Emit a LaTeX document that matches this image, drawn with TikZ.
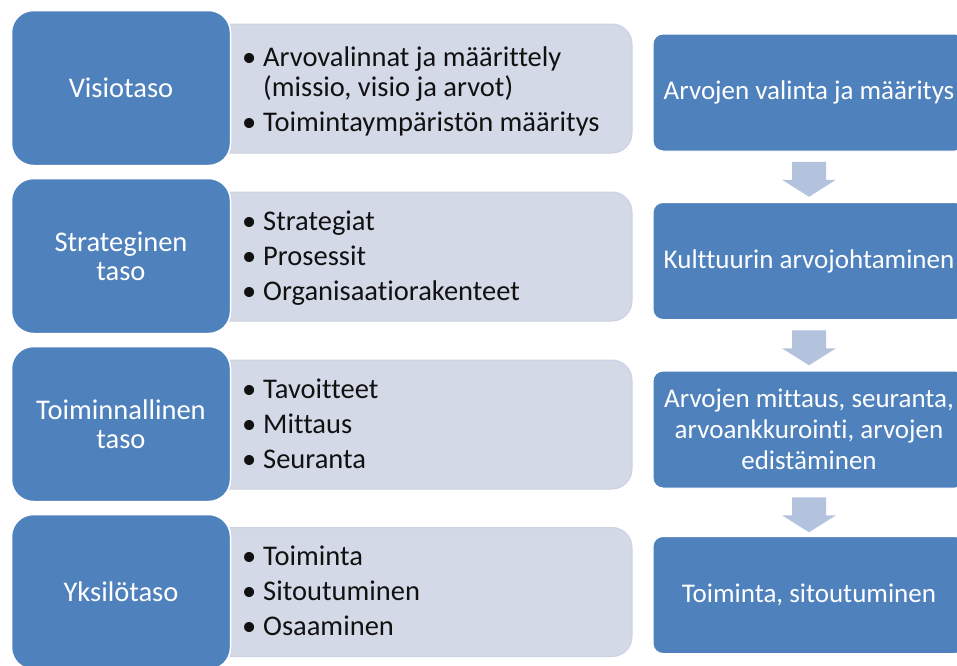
\documentclass[tikz,border=0pt]{standalone}
\usepackage{fontspec}
\setmainfont{Carlito}[Ligatures={NoCommon}]
\usetikzlibrary{calc}
\definecolor{tasosin}{HTML}{4F81BD}
\definecolor{listaharmaa}{HTML}{D3D9E6}
\definecolor{listareuna}{HTML}{CBD2E1}
\definecolor{nuolisin}{HTML}{B3C2DD}
\definecolor{teksti}{HTML}{111111}

\begin{document}
\begin{tikzpicture}[x=1pt,y=-1pt,
  taso/.style={rounded corners=22pt, fill=tasosin, draw=white, line width=1.5pt, minimum width=219pt, minimum height=155pt, text=white, align=center, font=\fontsize{28.5}{29}\selectfont},
  lista/.style={rounded corners=20pt, fill=listaharmaa, draw=listareuna, line width=1pt, minimum width=432pt, minimum height=129pt},
  kohdat/.style={anchor=west, inner sep=0pt, text=teksti, font=\fontsize{28.5}{29}\selectfont},
  arvo/.style={rounded corners=10pt, fill=tasosin, draw=white, line width=1pt, minimum width=312pt, minimum height=117pt, text=white, align=center, font=\fontsize{27}{31}\selectfont},
  nuoli/.style={fill=nuolisin}
]
\useasboundingbox (0,0) rectangle (957,665);
\clip (0,0) rectangle (957,665);

% harmaat listalaatikot
\node[lista] (visioL) at (416,88.5) {};
\node[lista] (stratL) at (416,256.5) {};
\node[lista] (toimL) at (416,424.5) {};
\node[lista] (yksL) at (416,592) {};

% tasot
\node[taso] (visio) at (121,88) {Visiotaso};
\node[taso] (strat) at (121,256) {Strateginen\\taso};
\node[taso] (toim) at (121,424) {Toiminnallinen\\taso};
\node[taso] (yks) at (121,592) {Yksilötaso};

% listat
\node[kohdat] (visioT) at (242,93) {\begin{tabular}{@{}p{21pt}@{}l@{}}
  \textbullet & Arvovalinnat ja määrittely\\
  & (missio, visio ja arvot)\\[6pt]
  \textbullet & Toimintaympäristön määritys
\end{tabular}};
\node[kohdat] (stratT) at (242,260) {\begin{tabular}{@{}p{21pt}@{}l@{}}
  \textbullet & Strategiat\\[6pt]
  \textbullet & Prosessit\\[6pt]
  \textbullet & Organisaatiorakenteet
\end{tabular}};
\node[kohdat] (toimT) at (242,428) {\begin{tabular}{@{}p{21pt}@{}l@{}}
  \textbullet & Tavoitteet\\[6pt]
  \textbullet & Mittaus\\[6pt]
  \textbullet & Seuranta
\end{tabular}};
\node[kohdat] (yksT) at (242,595) {\begin{tabular}{@{}p{21pt}@{}l@{}}
  \textbullet & Toiminta\\[6pt]
  \textbullet & Sitoutuminen\\[6pt]
  \textbullet & Osaaminen
\end{tabular}};

% arvoketju oikealla
\node[arvo] (arvo1) at (809,92.5) {Arvojen valinta ja määritys};
\node[arvo] (arvo2) at (809,261) {Kulttuurin arvojohtaminen};
\node[arvo] (arvo3) at (809,429.5) {Arvojen mittaus, seuranta,\\arvoankkurointi, arvojen\\edistäminen};
\node[arvo] (arvo4) at (809,595) {Toiminta, sitoutuminen};

% nuolet
\foreach \a/\b in {arvo1/arvo2, arvo2/arvo3, arvo3/arvo4}{
  \coordinate (k) at ($(\a.south)!.5!(\b.north)$);
  \fill[nuoli] ($(k)+(-17,-15)$) -- ($(k)+(17,-15)$) -- ($(k)+(17,3)$) -- ($(k)+(27,3)$)
    -- ($(k)+(0,20)$) -- ($(k)+(-27,3)$) -- ($(k)+(-17,3)$) -- cycle;
}
\end{tikzpicture}
\end{document}
